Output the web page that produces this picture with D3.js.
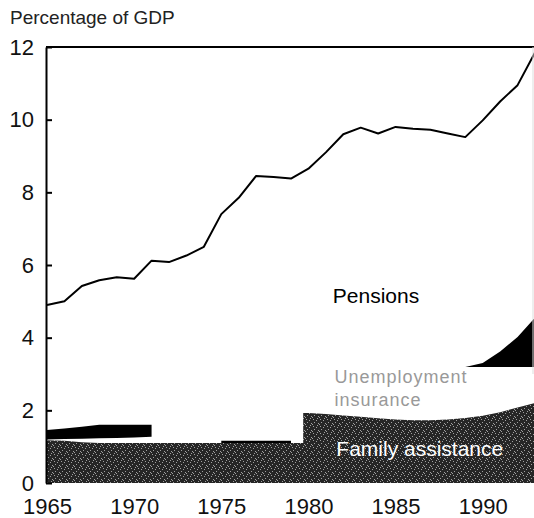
<!DOCTYPE html>
<html>
<head>
<meta charset="utf-8">
<script src="https://cdn.jsdelivr.net/npm/d3@7"></script>
<style>
  body { margin: 0; background: #fff; }
  text { font-family: "Liberation Sans", Arial, sans-serif; }
</style>
</head>
<body>
<div id="chart"></div>
<script>
'use strict';

// Data: percentage of GDP (cumulative tops)
var years = [1965, 1966, 1967, 1968, 1969, 1970, 1971, 1972, 1973, 1974,
             1975, 1976, 1977, 1978, 1979, 1980, 1981, 1982, 1983, 1984,
             1985, 1986, 1987, 1988, 1989, 1990, 1991, 1992, 1993]
var pensionsTop = [4.9, 5.0, 5.42, 5.58, 5.66, 5.62, 6.12, 6.08, 6.26, 6.5,
                   7.4, 7.85, 8.45, 8.42, 8.38, 8.65, 9.1, 9.6, 9.78, 9.62,
                   9.8, 9.75, 9.72, 9.62, 9.52, 9.98, 10.5, 10.95, 11.85]

// family assistance jumps in the course of 1979
var familyYears = [1965, 1966, 1967, 1968, 1969, 1970, 1971, 1972, 1973, 1974,
                   1975, 1976, 1977, 1978, 1979, 1979.7, 1979.7, 1980, 1981, 1982,
                   1983, 1984, 1985, 1986, 1987, 1988, 1989, 1990, 1991, 1992, 1993]
var familyTop = [1.18, 1.16, 1.12, 1.1, 1.1, 1.1, 1.1, 1.1, 1.1, 1.1,
                 1.1, 1.1, 1.1, 1.1, 1.1, 1.1, 1.93, 1.93, 1.9, 1.86,
                 1.82, 1.78, 1.75, 1.73, 1.73, 1.75, 1.79, 1.85, 1.95, 2.08, 2.2]

// unemployment insurance band, only where it is printed black (null = faded)
var unempLow  = [1.2, 1.21, 1.22, 1.23, 1.24, 1.25, 1.27, null, null, null,
                 1.1, 1.1, 1.1, 1.1, 1.1, null, null, null, null, null,
                 null, null, null, null, 3.19, 3.19, 3.19, 3.19, 3.19]
var unempHigh = [1.46, 1.5, 1.55, 1.6, 1.6, 1.6, 1.6, null, null, null,
                 1.16, 1.16, 1.16, 1.16, 1.16, null, null, null, null, null,
                 null, null, null, null, 3.19, 3.3, 3.62, 4.02, 4.55]

var yTicks = [0, 2, 4, 6, 8, 10, 12]
var xTicks = [1965, 1970, 1975, 1980, 1985, 1990]

// Setup: dimensions
var W = 534, H = 518
var margin = {top: 47, right: 0, bottom: 35, left: 46}
var width = W - margin.left - margin.right
var height = H - margin.top - margin.bottom

var x = d3.scaleLinear()
  .domain([1965, 1993])
  .range([1, width + 1])

var y = d3.scaleLinear()
  .domain([0, 12])
  .range([height, 0])

var svg = d3.select('#chart').append('svg')
  .attr('width', W)
  .attr('height', H)

// stipple texture for family assistance
var pat = svg.append('defs').append('pattern')
  .attr('id', 'stipple')
  .attr('patternUnits', 'userSpaceOnUse')
  .attr('width', 7)
  .attr('height', 7)
pat.append('rect').attr('width', 7).attr('height', 7).attr('fill', '#262626')
;[[1, 1], [4, 2], [2, 4], [6, 5], [5, 0], [0, 6]].forEach(function(p){
  pat.append('rect')
    .attr('x', p[0]).attr('y', p[1])
    .attr('width', 1).attr('height', 1)
    .attr('fill', '#a0a0a0')
})

var g = svg.append('g')
  .attr('transform', 'translate(' + margin.left + ',' + margin.top + ')')

// Family assistance
var family = familyYears.map(function(yr, i){ return {year: yr, value: familyTop[i]} })
g.append('path')
  .datum(family)
  .attr('fill', 'url(#stipple)')
  .attr('d', d3.area()
    .x(function(d){ return x(d.year) })
    .y0(y(0))
    .y1(function(d){ return y(d.value) }))

// Unemployment insurance (visible black parts)
var unemp = years.map(function(yr, i){ return {year: yr, lo: unempLow[i], hi: unempHigh[i]} })
g.append('path')
  .datum(unemp)
  .attr('fill', '#000')
  .attr('d', d3.area()
    .defined(function(d){ return d.lo !== null })
    .x(function(d){ return x(d.year) })
    .y0(function(d){ return y(d.lo) })
    .y1(function(d){ return y(d.hi) }))

// Pensions: top line
var pensions = years.map(function(yr, i){ return {year: yr, value: pensionsTop[i]} })
g.append('path')
  .datum(pensions)
  .attr('fill', 'none')
  .attr('stroke', '#000')
  .attr('stroke-width', 2)
  .attr('stroke-linejoin', 'round')
  .attr('d', d3.line()
    .x(function(d){ return x(d.year) })
    .y(function(d){ return y(d.value) }))

// Axes
var yAxis = g.append('g')
  .call(d3.axisLeft(y).tickValues(yTicks).tickSize(-6).tickSizeOuter(0).tickPadding(12))
yAxis.select('.domain').attr('stroke-width', 2)
yAxis.selectAll('.tick line').attr('stroke-width', 2)
yAxis.selectAll('text')
  .style('font-size', '22px')
  .attr('fill', '#111')

var xAxis = g.append('g')
  .attr('transform', 'translate(0,' + height + ')')
  .call(d3.axisBottom(x).tickValues(xTicks).tickFormat(d3.format('d')).tickSize(0).tickPadding(15))
xAxis.select('.domain').remove()
xAxis.selectAll('text')
  .style('font-size', '22px')
  .attr('fill', '#111')

// frame
g.append('line')
  .attr('x1', 0).attr('x2', width)
  .attr('y1', 0).attr('y2', 0)
  .attr('stroke', '#000')
  .attr('stroke-width', 2)
g.append('line')
  .attr('x1', width - 1).attr('x2', width - 1)
  .attr('y1', 0).attr('y2', y(3))
  .attr('stroke', '#ddd')
  .attr('stroke-width', 1)

// Labels
svg.append('text')
  .attr('x', 10)
  .attr('y', 24)
  .style('font-size', '19px')
  .attr('fill', '#222')
  .text('Percentage of GDP')

g.append('text')
  .attr('x', x(1981.4))
  .attr('y', y(4.95))
  .style('font-size', '21px')
  .attr('fill', '#000')
  .text('Pensions')

g.append('text')
  .attr('x', x(1981.5))
  .attr('y', y(2.75))
  .style('font-size', '18px')
  .style('letter-spacing', '1px')
  .attr('fill', '#999')
  .text('Unemployment')
g.append('text')
  .attr('x', x(1981.5))
  .attr('y', y(2.12))
  .style('font-size', '18px')
  .style('letter-spacing', '1px')
  .attr('fill', '#999')
  .text('insurance')

g.append('text')
  .attr('x', x(1981.6))
  .attr('y', y(0.75))
  .style('font-size', '21px')
  .attr('fill', '#fff')
  .text('Family assistance')
</script>
</body>
</html>
